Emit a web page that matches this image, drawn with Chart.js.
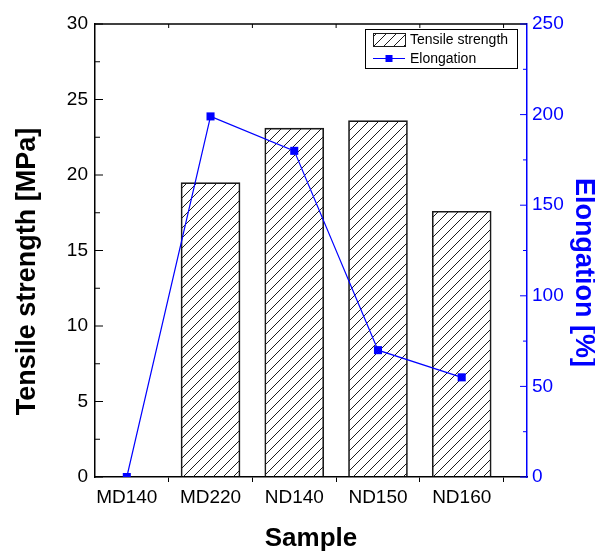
<!DOCTYPE html>
<html lang="en">
<head>
<meta charset="UTF-8">
<title>Tensile strength and elongation</title>
<script src="https://cdn.jsdelivr.net/npm/chart.js"></script>
<style>
  html, body { margin: 0; padding: 0; background: #fff; }
  #wrap { width: 595px; height: 551px; }
</style>
</head>
<body>
<div id="wrap"><canvas id="sampleChart" width="595" height="551"></canvas></div>
<script>
// data
const samples = ['MD140', 'MD220', 'ND140', 'ND150', 'ND160'];
const tensileStrength = [0, 19.5, 23.1, 23.6, 17.6];   // MPa
const elongation = [0, 199, 180, 70, 55];              // %
const strengthTicks = [0, 5, 10, 15, 20, 25, 30];
const elongationTicks = [0, 50, 100, 150, 200, 250];

const FONT = '"Liberation Sans", Arial, sans-serif';
const BLUE = '#0000ff';

// hatch fill "////"
function makeHatch() {
    const c = document.createElement('canvas');
    c.width = 10; c.height = 10;
    const g = c.getContext('2d');
    g.strokeStyle = '#1a1a1a';
    g.lineWidth = 1;
    g.beginPath();
    g.moveTo(0, 10); g.lineTo(10, 0);
    g.moveTo(-5, 5); g.lineTo(5, -5);
    g.moveTo(5, 15); g.lineTo(15, 5);
    g.stroke();
    return g.createPattern(c, 'repeat');
}
const hatch = makeHatch();

// category positions 1..5, tick marks half way between them
const catTicks = [];
samples.forEach((s, i) => { catTicks.push(i + 1); catTicks.push(i + 1.5); });

function midpoints(arr) {
    const out = [];
    for (let i = 0; i < arr.length - 1; i++) out.push((arr[i] + arr[i + 1]) / 2);
    return out;
}

function seg(ctx, x1, y1, x2, y2) {
    ctx.beginPath();
    ctx.moveTo(x1, y1);
    ctx.lineTo(x2, y2);
    ctx.stroke();
}

const frameDecor = {
    id: 'frameDecor',
    afterDraw(chart) {
        const { ctx, chartArea: a, scales } = chart;
        ctx.save();

        // top frame + inward ticks
        ctx.strokeStyle = '#000';
        ctx.lineWidth = 1.5;
        seg(ctx, a.left, a.top, a.right, a.top);
        ctx.lineWidth = 1;
        catTicks.filter(v => v % 1).forEach(v => {
            const px = scales.x.getPixelForValue(v);
            seg(ctx, px, a.top, px, a.top + 4);
        });

        // left axis inward ticks
        strengthTicks.forEach(v => {
            const py = scales.y.getPixelForValue(v);
            seg(ctx, a.left, py, a.left + 8, py);
        });
        midpoints(strengthTicks).forEach(v => {
            const py = scales.y.getPixelForValue(v);
            seg(ctx, a.left, py, a.left + 5, py);
        });

        // right axis inward ticks
        ctx.strokeStyle = BLUE;
        elongationTicks.forEach(v => {
            const py = scales.y1.getPixelForValue(v);
            seg(ctx, a.right - 7, py, a.right, py);
        });
        midpoints(elongationTicks).forEach(v => {
            const py = scales.y1.getPixelForValue(v);
            seg(ctx, a.right - 4, py, a.right, py);
        });

        // axis titles
        const midY = (a.top + a.bottom) / 2;
        ctx.font = 'bold 27px ' + FONT;
        ctx.textAlign = 'center';
        ctx.textBaseline = 'middle';
        ctx.fillStyle = '#000';
        ctx.save();
        ctx.translate(28, midY + 21);
        ctx.rotate(-Math.PI / 2);
        ctx.fillText('Tensile strength [MPa]', 0, 0);
        ctx.restore();

        ctx.save();
        ctx.fillStyle = BLUE;
        ctx.translate(583, midY + 22);
        ctx.rotate(Math.PI / 2);
        ctx.fillText('Elongation [%]', 0, 0);
        ctx.restore();

        ctx.font = 'bold 26px ' + FONT;
        ctx.fillText('Sample', (a.left + a.right) / 2, 539);

        // legend box
        const bx = a.right - 162, by = a.top + 5, bw = 152, bh = 39;
        ctx.lineWidth = 1;
        ctx.strokeStyle = '#000';
        ctx.strokeRect(bx + 0.5, by + 0.5, bw, bh);

        ctx.fillStyle = hatch;
        ctx.fillRect(bx + 8, by + 4, 32, 13);
        ctx.strokeStyle = '#1a1a1a';
        ctx.strokeRect(bx + 8.5, by + 4.5, 32, 13);

        ctx.strokeStyle = BLUE;
        seg(ctx, bx + 8, by + 29.5, bx + 40, by + 29.5);
        ctx.fillStyle = BLUE;
        ctx.fillRect(bx + 20.5, by + 26, 7, 7);

        ctx.font = '14px ' + FONT;
        ctx.textAlign = 'left';
        ctx.fillStyle = '#000';
        ctx.fillText('Tensile strength', bx + 45, by + 11);
        ctx.fillText('Elongation', bx + 45, by + 30);

        ctx.restore();
    }
};

const ctx = document.getElementById('sampleChart').getContext('2d');
const sampleChart = new Chart(ctx, {
    data: {
        datasets: [
            {
                type: 'line',
                label: 'Elongation',
                data: samples.map((s, i) => ({ x: i + 1, y: elongation[i] })),
                yAxisID: 'y1',
                borderColor: BLUE,
                borderWidth: 1.2,
                pointStyle: 'rect',
                pointRadius: 5.7,
                pointBackgroundColor: BLUE,
                pointBorderWidth: 0,
                order: 0
            },
            {
                type: 'bar',
                label: 'Tensile strength',
                data: samples.map((s, i) => ({ x: i + 1, y: tensileStrength[i] })),
                yAxisID: 'y',
                backgroundColor: hatch,
                borderColor: '#1a1a1a',
                borderWidth: 1,
                barThickness: 59,
                order: 1
            }
        ]
    },
    options: {
        responsive: false,
        animation: false,
        layout: { padding: { top: 24, left: 0, right: 0, bottom: 0 } },
        plugins: {
            legend: { display: false },
            tooltip: { enabled: false }
        },
        scales: {
            x: {
                type: 'linear',
                min: 0.62,
                max: 5.78,
                offset: false,
                afterBuildTicks: s => { s.ticks = catTicks.map(v => ({ value: v })); },
                afterFit: s => { s.height = 74; },
                ticks: {
                    autoSkip: false,
                    maxRotation: 0,
                    padding: 4,
                    color: '#000',
                    font: { family: FONT, size: 19 },
                    callback: v => (v % 1 ? '' : samples[v - 1])
                },
                grid: {
                    offset: false,
                    drawOnChartArea: false,
                    tickLength: 5,
                    color: c => (c.tick && c.tick.value % 1 ? '#000' : 'rgba(0,0,0,0)')
                },
                border: { color: '#000', width: 1.5 }
            },
            y: {
                position: 'left',
                min: 0,
                max: 30,
                afterBuildTicks: s => { s.ticks = strengthTicks.map(v => ({ value: v })); },
                afterFit: s => { s.width = 95; },
                ticks: {
                    padding: 7,
                    color: '#000',
                    font: { family: FONT, size: 19 }
                },
                grid: { drawOnChartArea: false, drawTicks: false },
                border: { color: '#000', width: 1.5 }
            },
            y1: {
                position: 'right',
                min: 0,
                max: 250,
                afterBuildTicks: s => { s.ticks = elongationTicks.map(v => ({ value: v })); },
                afterFit: s => { s.width = 68; },
                ticks: {
                    padding: 5,
                    color: BLUE,
                    font: { family: FONT, size: 19 }
                },
                grid: { drawOnChartArea: false, drawTicks: false },
                border: { color: BLUE, width: 1.5 }
            }
        }
    },
    plugins: [frameDecor]
});
</script>
</body>
</html>
